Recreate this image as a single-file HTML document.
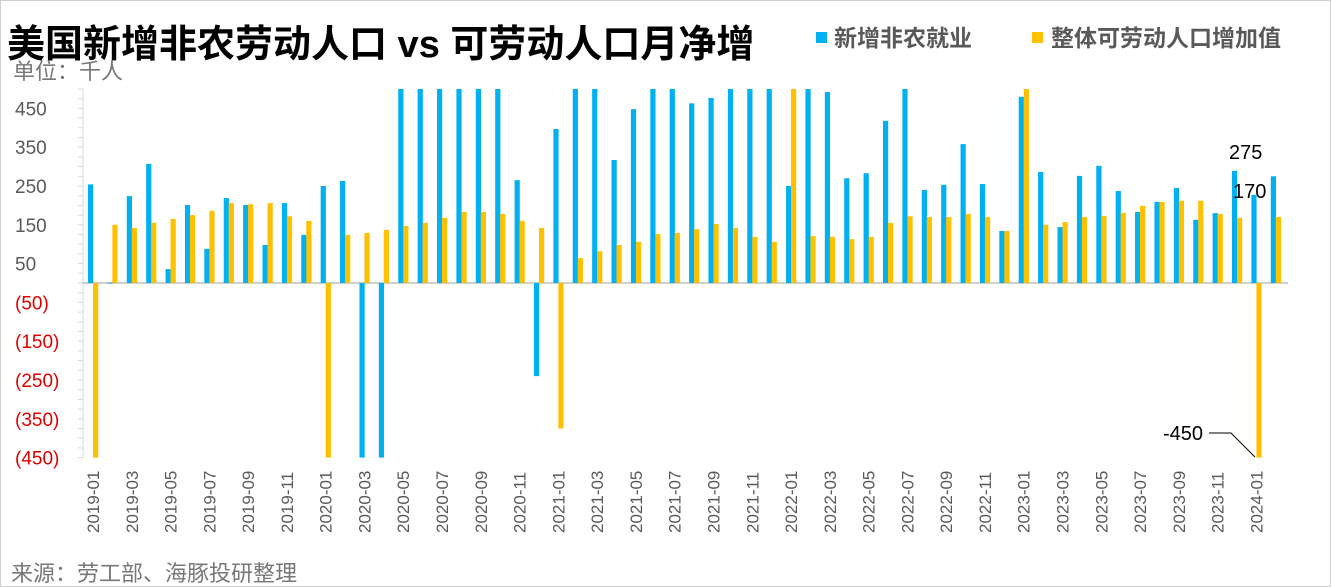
<!DOCTYPE html>
<html><head><meta charset="utf-8">
<style>
body{margin:0;background:#fff;}
#wrap{position:relative;width:1331px;height:587px;overflow:hidden;font-family:"Liberation Sans","Noto Sans CJK SC",sans-serif;border:1px solid #d0d0d0;box-sizing:border-box;}
</style></head>
<body>
<div id="wrap">
<svg id="chart" width="1331" height="587">
<text x="6" y="56" font-size="38" font-weight="bold" fill="#000" font-family="Liberation Sans,Noto Sans CJK SC,sans-serif">美国新增非农劳动人口 vs 可劳动人口月净增</text>
<text x="12" y="78" font-size="22" fill="#777" font-family="Liberation Sans,Noto Sans CJK SC,sans-serif">单位：千人</text>
<rect x="815" y="31" width="11" height="11" fill="#00B0F0"/>
<text x="833" y="45" font-size="23" font-weight="bold" fill="#595959" font-family="Liberation Sans,Noto Sans CJK SC,sans-serif">新增非农就业</text>
<rect x="1031" y="31" width="11" height="11" fill="#FFC000"/>
<text x="1050" y="45" font-size="23" font-weight="bold" fill="#595959" font-family="Liberation Sans,Noto Sans CJK SC,sans-serif">整体可劳动人口增加值</text>
<text x="10" y="580" font-size="22" fill="#777" font-family="Liberation Sans,Noto Sans CJK SC,sans-serif">来源：劳工部、海豚投研整理</text>
<g id="axes"></g><g id="bars"></g><g id="xlabels"></g>
<text x="1228" y="158" font-size="20" fill="#000">275</text>
<text x="1232" y="197" font-size="20" fill="#000">170</text>
<text x="1162" y="439" font-size="20" fill="#000">-450</text>
<polyline points="1208,432 1230,432 1254,456" fill="none" stroke="#000" stroke-width="1"/>
</svg>
</div>
<script>
const months = [];
for (let y = 2019; y <= 2024; y++) for (let m = 1; m <= 12; m++) { if (y === 2024 && m > 2) break; months.push(y + '-' + String(m).padStart(2, '0')); }
const nonfarm = [254,1,224,307,36,201,88,219,201,98,206,124,250,263,-1000,-20000,2700,4500,1600,1500,700,700,265,-240,397,710,710,317,448,900,1000,463,477,700,650,600,250,700,492,270,283,418,530,240,253,358,255,134,480,286,144,276,302,237,183,209,245,163,180,289,227,275];
const labor = [-450,150,142,155,165,175,186,206,203,206,172,160,-450,124,129,137,147,155,168,183,183,178,160,142,-375,64,82,98,106,126,129,139,152,142,119,106,600,121,119,113,119,155,172,170,170,178,170,134,600,150,157,170,173,181,199,209,212,212,178,168,-450,170];
const yTicks = [450,350,250,150,50,-50,-150,-250,-350,-450];
const yMin = -450, yMax = 500;
const NS = 'http://www.w3.org/2000/svg';
const x0 = 82, step = 19.39, zeroY = 282, pxPer = 0.388;
function yScale(v){ v = Math.max(yMin, Math.min(yMax, v)); return zeroY - v * pxPer; }
function xCenter(i){ return x0 + 10 + i * step; }
const axes = document.getElementById('axes'), bars = document.getElementById('bars'), xl = document.getElementById('xlabels');
const axisLine = document.createElementNS(NS,'line');
axisLine.setAttribute('x1',x0);axisLine.setAttribute('x2',x0);axisLine.setAttribute('y1',yScale(yMax));axisLine.setAttribute('y2',yScale(yMin));axisLine.setAttribute('stroke','#d9d9d9');


axes.appendChild(axisLine);
const zl = document.createElementNS(NS,'line');
zl.setAttribute('x1',x0);zl.setAttribute('x2',x0+months.length*step+3);zl.setAttribute('y1',zeroY);zl.setAttribute('y2',zeroY);zl.setAttribute('stroke','#d0d0d0');zl.setAttribute('stroke-width','2');


axes.appendChild(zl);
for (let v = yMin; v <= yMax; v += 25) {
  const t = document.createElementNS(NS,'line');
  t.setAttribute('x1',x0-5);t.setAttribute('x2',x0);t.setAttribute('y1',yScale(v));t.setAttribute('y2',yScale(v));t.setAttribute('stroke','#d9d9d9');
  
  
  axes.appendChild(t);
}
yTicks.forEach(v => {
  const t = document.createElementNS(NS,'text');
  t.setAttribute('x', 14); t.setAttribute('y', yScale(v) + 7);
  t.setAttribute('font-size','19'); t.setAttribute('fill', v < 0 ? '#e00000' : '#595959');
  t.textContent = v < 0 ? '(' + (-v) + ')' : String(v);
  
  
  axes.appendChild(t);
});
months.forEach((m, i) => {
  const c = xCenter(i);
  [[nonfarm[i], '#00B0F0', c - 5, 'bar-nonfarm'], [labor[i], '#FFC000', c, 'bar-labor']].forEach(([v, col, x, nm]) => {
    const r = document.createElementNS(NS,'rect');
    const y1 = yScale(v), top = Math.min(y1, zeroY), h = Math.abs(y1 - zeroY);
    r.setAttribute('x', x); r.setAttribute('width', 5.2); r.setAttribute('y', top); r.setAttribute('height', Math.max(h, 0.8)); r.setAttribute('fill', col);
    
    
    bars.appendChild(r);
  });
  if (i % 2 === 0) {
    const t = document.createElementNS(NS,'text');
    t.setAttribute('transform', 'translate(' + (c + 6) + ',532) rotate(-90)');
    t.setAttribute('font-size','17'); t.setAttribute('fill','#595959');
    t.textContent = m;
    
    
    xl.appendChild(t);
  }
});
</script>
</body></html>
